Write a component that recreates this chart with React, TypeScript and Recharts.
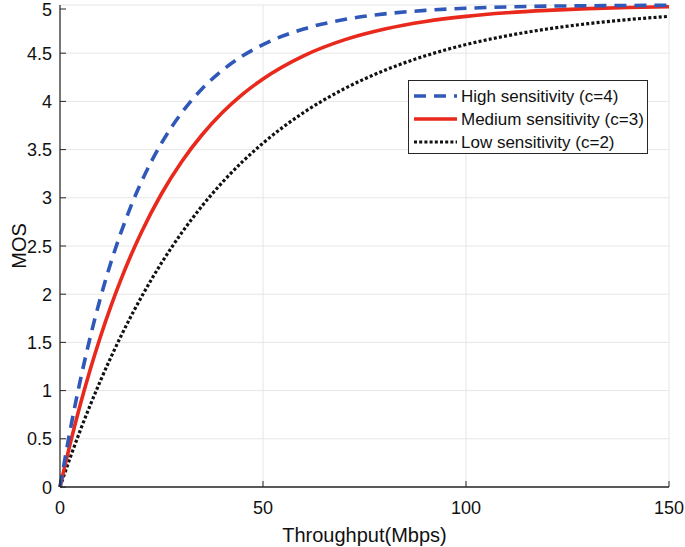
import React from 'react';
import { LineChart, Line, XAxis, YAxis, CartesianGrid, Legend } from 'recharts';

const throughput = [0, 2.5, 5, 7.5, 10, 12.5, 15, 17.5, 20, 25, 30, 35, 40, 45, 50, 60, 70, 80, 90, 100, 110, 120, 130, 140, 150];
const highMos = [0, 0.588, 1.106, 1.564, 1.967, 2.324, 2.638, 2.916, 3.161, 3.567, 3.884, 4.131, 4.323, 4.473, 4.59, 4.751, 4.849, 4.908, 4.944, 4.966, 4.98, 4.988, 4.992, 4.995, 4.997];
const mediumMos = [0, 0.447, 0.855, 1.226, 1.564, 1.871, 2.151, 2.406, 2.638, 3.042, 3.377, 3.654, 3.884, 4.075, 4.233, 4.473, 4.638, 4.751, 4.829, 4.882, 4.919, 4.944, 4.962, 4.974, 4.982];
const lowMos = [0, 0.303, 0.588, 0.855, 1.106, 1.342, 1.564, 1.772, 1.967, 2.324, 2.638, 2.916, 3.161, 3.377, 3.567, 3.884, 4.131, 4.323, 4.473, 4.59, 4.68, 4.751, 4.806, 4.849, 4.882];

const xTicks = [0, 50, 100, 150];
const yTicks = [0, 0.5, 1, 1.5, 2, 2.5, 3, 3.5, 4, 4.5, 5];
const seriesNames = ['High sensitivity (c=4)', 'Medium sensitivity (c=3)', 'Low sensitivity (c=2)'];

const data = throughput.map((x, i) => ({ x, high: highMos[i], medium: mediumMos[i], low: lowMos[i] }));

const FONT = '"Liberation Sans", Arial, Helvetica, sans-serif';
const AXIS = '#262626';
const styles = [
  { key: 'high', color: '#2f58b8', width: 3.6, dash: '12 8' },
  { key: 'medium', color: '#e8291c', width: 3.6, dash: undefined as string | undefined },
  { key: 'low', color: '#111111', width: 3.2, dash: '3 2.2' },
];

const TICK_LEN = 6;

const BottomTick = (props: any) => {
  const { x, y, payload } = props;
  return (
    <g>
      <line x1={x} y1={y} x2={x} y2={y - TICK_LEN} stroke={AXIS} strokeWidth={1} />
      <text x={x} y={y + 27} textAnchor="middle" fontFamily={FONT} fontSize={18} fill="#111">
        {String(payload.value)}
      </text>
    </g>
  );
};

const TopTick = (props: any) => {
  const { x, y } = props;
  return <line x1={x} y1={y} x2={x} y2={y + TICK_LEN} stroke={AXIS} strokeWidth={1} />;
};

const LeftTick = (props: any) => {
  const { x, y, payload } = props;
  return (
    <g>
      <line x1={x} y1={y} x2={x + TICK_LEN} y2={y} stroke={AXIS} strokeWidth={1} />
      <text x={x - 8} y={y + 6.5} textAnchor="end" fontFamily={FONT} fontSize={18} fill="#111">
        {String(payload.value)}
      </text>
    </g>
  );
};

const RightTick = (props: any) => {
  const { x, y } = props;
  return <line x1={x} y1={y} x2={x - TICK_LEN} y2={y} stroke={AXIS} strokeWidth={1} />;
};

const renderLegend = () => (
  <div
    style={{
      width: 240,
      height: 74,
      boxSizing: 'border-box',
      border: `1px solid ${AXIS}`,
      background: '#fff',
    }}
  >
    <svg width={238} height={72} style={{ display: 'block' }}>
      {styles.map((s, i) => {
        const cy = 15 + i * 23;
        return (
          <g key={s.key}>
            <line
              x1={5}
              y1={cy}
              x2={48}
              y2={cy}
              stroke={s.color}
              strokeWidth={s.width}
              strokeDasharray={s.dash}
            />
            <text x={52} y={cy + 6} fontFamily={FONT} fontSize={17} fill="#111">
              {seriesNames[i]}
            </text>
          </g>
        );
      })}
    </svg>
  </div>
);

const MosLabel = (props: any) => {
  const vb = props.viewBox || { x: 0, y: 0, width: 60, height: 482 };
  const cx = 19;
  const cy = vb.y + vb.height / 2;
  return (
    <text
      x={cx}
      y={cy}
      transform={`rotate(-90, ${cx}, ${cy})`}
      textAnchor="middle"
      dominantBaseline="central"
      fontFamily={FONT}
      fontSize={20}
      fill="#111"
    >
      MOS
    </text>
  );
};

export default function App() {
  return (
    <div style={{ position: 'absolute', left: 0, top: 0, width: 685, height: 547, background: '#fff' }}>
      <LineChart width={685} height={547} data={data} margin={{ top: 5, right: 16, bottom: 0, left: 0 }}>
        <CartesianGrid
          xAxisId="bottom"
          yAxisId="left"
          stroke="#e6e6e6"
          strokeWidth={1}
          horizontalValues={yTicks}
          verticalValues={xTicks}
        />
        <XAxis
          xAxisId="bottom"
          dataKey="x"
          type="number"
          domain={[0, 150]}
          ticks={xTicks}
          height={60}
          tickSize={0}
          tickMargin={0}
          tickLine={false}
          tick={<BottomTick />}
          axisLine={{ stroke: AXIS, strokeWidth: 1.3 }}
          label={{ value: 'Throughput(Mbps)', position: 'insideBottom', offset: 5, fontFamily: FONT, fontSize: 20, fill: '#111' }}
        />
        <XAxis
          xAxisId="top"
          orientation="top"
          dataKey="x"
          type="number"
          domain={[0, 150]}
          ticks={xTicks}
          height={0}
          tickSize={0}
          tickMargin={0}
          tickLine={false}
          tick={<TopTick />}
          axisLine={{ stroke: AXIS, strokeWidth: 1 }}
        />
        <YAxis
          yAxisId="left"
          type="number"
          domain={[0, 5]}
          ticks={yTicks}
          width={60}
          tickSize={0}
          tickMargin={0}
          tickLine={false}
          tick={<LeftTick />}
          axisLine={{ stroke: AXIS, strokeWidth: 1.2 }}
          label={<MosLabel />}
        />
        <YAxis
          yAxisId="right"
          orientation="right"
          type="number"
          domain={[0, 5]}
          ticks={yTicks}
          width={0}
          tickSize={0}
          tickMargin={0}
          tickLine={false}
          tick={<RightTick />}
          axisLine={{ stroke: AXIS, strokeWidth: 1.2 }}
        />
        <Legend
          layout="horizontal"
          verticalAlign="middle"
          align="center"
          width={240}
          content={renderLegend}
          wrapperStyle={{ left: 408, top: 80, right: 'auto', bottom: 'auto' }}
        />
        {[...styles].reverse().map((s) => (
          <Line
            key={s.key}
            xAxisId="bottom"
            yAxisId="left"
            type="monotone"
            dataKey={s.key}
            name={seriesNames[styles.indexOf(s)]}
            stroke={s.color}
            strokeWidth={s.width}
            strokeDasharray={s.dash}
            dot={false}
            activeDot={false}
            isAnimationActive={false}
          />
        ))}
      </LineChart>
    </div>
  );
}
